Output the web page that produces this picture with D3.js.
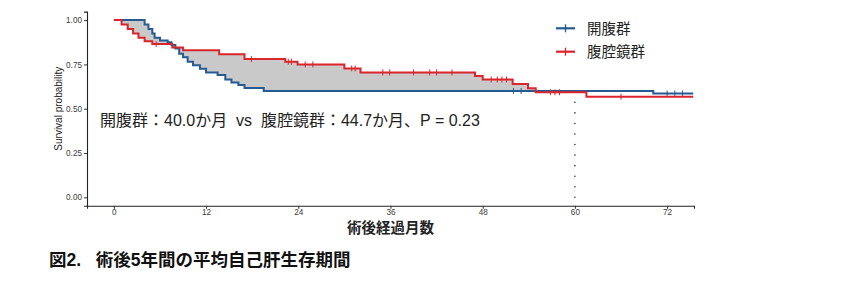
<!DOCTYPE html>
<html><head><meta charset="utf-8">
<script src="https://cdn.jsdelivr.net/npm/d3@7"></script>
<style>
html,body{margin:0;padding:0;background:#fff;}
svg{display:block;}
</style></head>
<body>
<svg id="chart" width="850" height="285"></svg>
<script>
// ---- data ----
const xTicks = [0, 12, 24, 36, 48, 60, 72];
const yTicks = [0, 0.25, 0.5, 0.75, 1.0];
const groupNames = ["開腹群", "腹腔鏡群"];
const openTimes = [0, 4.0, 4.5, 5.0, 5.3, 6.0, 7.0, 7.5, 8.0, 8.5, 9.0, 9.6, 10.3, 11.2, 12.0, 13.5, 14.5, 15.3, 16.2, 17.0, 19.5, 70.2];
const openSurv  = [1.0, 0.975, 0.95, 0.925, 0.90, 0.885, 0.875, 0.86, 0.84, 0.81, 0.79, 0.765, 0.745, 0.725, 0.705, 0.69, 0.665, 0.648, 0.634, 0.617, 0.60, 0.586];
const openCensor = [52.0, 53.0, 72.0, 73.0, 74.0];
const lapTimes = [0, 1.0, 1.8, 2.5, 3.2, 4.0, 5.0, 7.6, 9.0, 13.7, 17.0, 22.3, 23.9, 30.0, 32.1, 47.0, 48.0, 51.9, 53.9, 54.9, 61.5];
const lapSurv  = [1.0, 0.975, 0.95, 0.925, 0.90, 0.88, 0.865, 0.845, 0.83, 0.808, 0.78, 0.765, 0.75, 0.727, 0.705, 0.685, 0.665, 0.64, 0.615, 0.593, 0.568];
const lapCensor = [5.5, 17.9, 22.7, 23.1, 24.9, 25.9, 30.95, 31.4, 35.0, 35.9, 39.0, 41.1, 42.0, 44.0, 49.1, 49.9, 50.5, 51.1, 56.8, 57.4, 58.0, 66.0];
const maxTime = 75.4;
const tau = 60;
const tauLineTop = 0.545;
const annotation = "開腹群：40.0か月\u00A0\u00A0vs\u00A0\u00A0腹腔鏡群：44.7か月、P = 0.23";
const xTitle = "術後経過月数";
const yTitle = "Survival probability";
const caption = "図2.\u00A0\u00A0\u00A0術後5年間の平均自己肝生存期間";

const colors = ["#255a92", "#d9252b"];

// ---- layout ----
const svg = d3.select("#chart");
const x = d3.scaleLinear().domain([-3.5, 75.5]).range([87, 694]);
const y = d3.scaleLinear().domain([-0.048, 1.048]).range([205.8, 11.6]);

const groups = [
  {times: openTimes, surv: openSurv, censor: openCensor, color: colors[0]},
  {times: lapTimes, surv: lapSurv, censor: lapCensor, color: colors[1]}
];
function survAt(g, t) {
  let s = g.surv[0];
  for (let i = 0; i < g.times.length; i++) if (g.times[i] <= t) s = g.surv[i];
  return s;
}

// fill between curves up to tau
const allT = Array.from(new Set([...openTimes, ...lapTimes].filter(t => t <= tau).concat([tau]))).sort((a,b)=>a-b);
const ribbon = allT.map(t => ({t, a: survAt(groups[0], t), b: survAt(groups[1], t)}));
svg.append("path")
  .attr("d", d3.area().curve(d3.curveStepAfter).x(d => x(d.t)).y0(d => y(d.a)).y1(d => y(d.b))(ribbon))
  .attr("fill", "#c9c9c9").attr("stroke", "none");

// axes
const gx = svg.append("g").attr("transform", `translate(0,${y.range()[0]})`)
  .call(d3.axisBottom(x).tickValues(xTicks).tickSize(3).tickPadding(0.5));
const gy = svg.append("g").attr("transform", `translate(${x.range()[0]},0)`)
  .call(d3.axisLeft(y).tickValues(yTicks).tickFormat(d3.format(".2f")).tickSize(3).tickPadding(2));
[gx, gy].forEach(g => {
  g.select(".domain").attr("stroke", "#222").attr("stroke-width", 1.1);
  g.selectAll(".tick line").attr("stroke", "#333");
  g.selectAll(".tick text").attr("fill", "#3a3a3a").style("font-size", "8.2px").style("font-family", "Liberation Sans, Arial, sans-serif");
});

// curves
groups.forEach(g => {
  const pts = g.times.map((t, i) => [t, g.surv[i]]);
  pts.push([maxTime, g.surv[g.surv.length - 1]]);
  svg.append("path")
    .attr("d", d3.line().curve(d3.curveStepAfter).x(d => x(d[0])).y(d => y(d[1]))(pts))
    .attr("fill", "none").attr("stroke", g.color).attr("stroke-width", 2);
  svg.selectAll(null).data(g.censor).enter().append("line")
    .attr("x1", d => x(d)).attr("x2", d => x(d))
    .attr("y1", d => y(survAt(g, d)) - 3).attr("y2", d => y(survAt(g, d)) + 3)
    .attr("stroke", g.color).attr("stroke-width", 1);
});

// tau dotted line
svg.append("line")
  .attr("x1", x(tau)).attr("x2", x(tau))
  .attr("y1", y(0)).attr("y2", y(tauLineTop))
  .attr("stroke", "#333").attr("stroke-width", 1.6)
  .attr("stroke-linecap", "round").attr("stroke-dasharray", "0 10.55");

// legend
groupNames.forEach((name, i) => {
  const ly = 28.3 + i * 23.4;
  svg.append("line").attr("x1", 556).attr("x2", 575).attr("y1", ly).attr("y2", ly)
    .attr("stroke", colors[i]).attr("stroke-width", 2.2);
  svg.append("line").attr("x1", 565.5).attr("x2", 565.5).attr("y1", ly - 4).attr("y2", ly + 4)
    .attr("stroke", colors[i]).attr("stroke-width", 1.3);
  svg.append("text").attr("x", 587).attr("y", ly).attr("dy", "0.36em")
    .style("font-family", "Noto Sans CJK JP, sans-serif").style("font-size", "14.5px")
    .attr("fill", "#222").text(name);
});

// annotation
svg.append("text").attr("x", 100).attr("y", 120).attr("dy", "0.36em")
  .style("font-family", "Liberation Sans, Noto Sans CJK JP, sans-serif").style("font-size", "16px")
  .attr("fill", "#222").text(annotation);

// axis titles
svg.append("text").attr("x", (x.range()[0] + x.range()[1]) / 2).attr("y", 227.5).attr("dy", "0.36em")
  .attr("text-anchor", "middle")
  .style("font-family", "Noto Sans CJK JP, sans-serif").style("font-size", "14.5px").style("font-weight", "bold")
  .attr("fill", "#222").text(xTitle);
svg.append("text").attr("transform", `translate(58,${y(0.5)}) rotate(-90)`).attr("dy", "0.36em")
  .attr("text-anchor", "middle")
  .style("font-family", "Liberation Sans, Arial, sans-serif").style("font-size", "10px")
  .attr("fill", "#222").text(yTitle);

// caption
svg.append("text").attr("x", 49).attr("y", 260).attr("dy", "0.36em")
  .style("font-family", "Liberation Sans, Noto Sans CJK JP, sans-serif").style("font-size", "17.5px").style("font-weight", "bold")
  .attr("fill", "#111").text(caption);
</script>
</body></html>
